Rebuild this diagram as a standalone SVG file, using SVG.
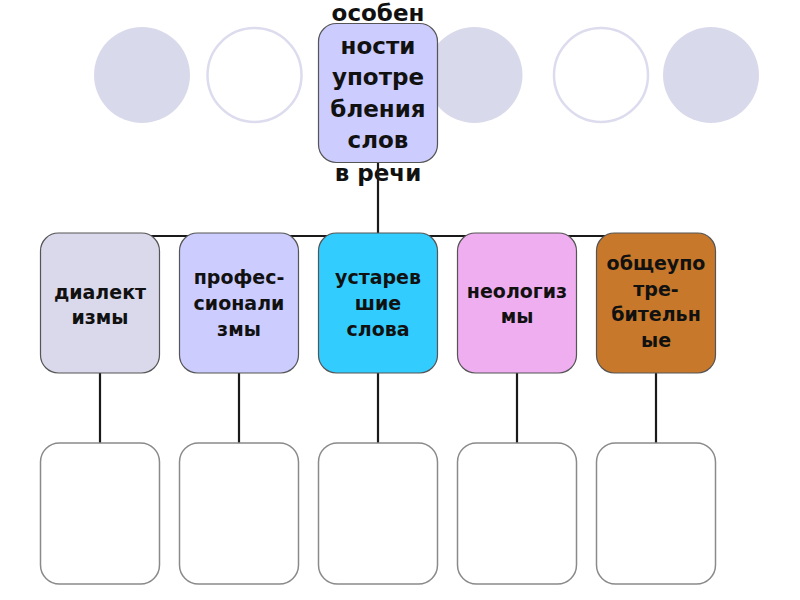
<svg xmlns="http://www.w3.org/2000/svg" width="800" height="600" viewBox="0 0 800 600">
<style>
.dot{fill:#d9d9ec}
.ring{fill:#ffffff;stroke:#dcdcee;stroke-width:2.5}
.box{stroke:#555;stroke-width:1.2}
.empty{fill:#fff;stroke:#8a8a8a;stroke-width:1.5}
.t{font-family:"DejaVu Sans",Verdana,sans-serif;font-weight:bold;fill:#111;text-anchor:middle}
.big{font-size:23px}
.mid{font-size:19px}
.conn{stroke:#1a1a1a;stroke-width:2.2;fill:none}
</style>
<rect width="800" height="600" fill="#fff"/>
<g id="decor">
<circle class="dot" cx="142" cy="75" r="48"/>
<circle class="ring" cx="254.5" cy="75" r="47"/>
<circle class="dot" cx="474.5" cy="75" r="48"/>
<circle class="ring" cx="601" cy="75" r="47"/>
<circle class="dot" cx="711" cy="75" r="48"/>
</g>
<g id="root">
<rect class="box" x="318.5" y="23.5" width="119" height="139" rx="18" fill="#ccccff"/>
<text class="t big" x="378" y="21">особен</text>
<text class="t big" x="378" y="54">ности</text>
<text class="t big" x="378" y="85">употре</text>
<text class="t big" x="378" y="117">бления</text>
<text class="t big" x="378" y="148">слов</text>
<text class="t big" x="378" y="181">в речи</text>
</g>
<g id="connectors">
<line class="conn" x1="378" y1="163" x2="378" y2="236"/>
<line class="conn" x1="100" y1="236" x2="656" y2="236"/>
<line class="conn" x1="100" y1="373" x2="100" y2="443"/>
<line class="conn" x1="239" y1="373" x2="239" y2="443"/>
<line class="conn" x1="378" y1="373" x2="378" y2="443"/>
<line class="conn" x1="517" y1="373" x2="517" y2="443"/>
<line class="conn" x1="656" y1="373" x2="656" y2="443"/>
</g>
<g id="n1">
<rect class="box" x="40.5" y="233" width="119" height="140" rx="18" fill="#dad9ec"/>
<text class="t mid" x="100" y="299">диалект</text>
<text class="t mid" x="100" y="324">измы</text>
</g>
<g id="n2">
<rect class="box" x="179.5" y="233" width="119" height="140" rx="18" fill="#ccccff"/>
<text class="t mid" x="239" y="284">профес-</text>
<text class="t mid" x="239" y="310">сионали</text>
<text class="t mid" x="239" y="336">змы</text>
</g>
<g id="n3">
<rect class="box" x="318.5" y="233" width="119" height="140" rx="18" fill="#33ccff"/>
<text class="t mid" x="378" y="284">устарев</text>
<text class="t mid" x="378" y="310">шие</text>
<text class="t mid" x="378" y="336">слова</text>
</g>
<g id="n4">
<rect class="box" x="457.5" y="233" width="119" height="140" rx="18" fill="#efaef0"/>
<text class="t mid" x="517" y="298">неологиз</text>
<text class="t mid" x="517" y="323">мы</text>
</g>
<g id="n5">
<rect class="box" x="596.5" y="233" width="119" height="140" rx="18" fill="#c8782a"/>
<text class="t mid" x="656" y="270">общеупо</text>
<text class="t mid" x="656" y="296">тре-</text>
<text class="t mid" x="656" y="321">бительн</text>
<text class="t mid" x="656" y="347">ые</text>
</g>
<g id="b1"><rect class="empty" x="40.5" y="443" width="119" height="141" rx="19"/></g>
<g id="b2"><rect class="empty" x="179.5" y="443" width="119" height="141" rx="19"/></g>
<g id="b3"><rect class="empty" x="318.5" y="443" width="119" height="141" rx="19"/></g>
<g id="b4"><rect class="empty" x="457.5" y="443" width="119" height="141" rx="19"/></g>
<g id="b5"><rect class="empty" x="596.5" y="443" width="119" height="141" rx="19"/></g>
</svg>
